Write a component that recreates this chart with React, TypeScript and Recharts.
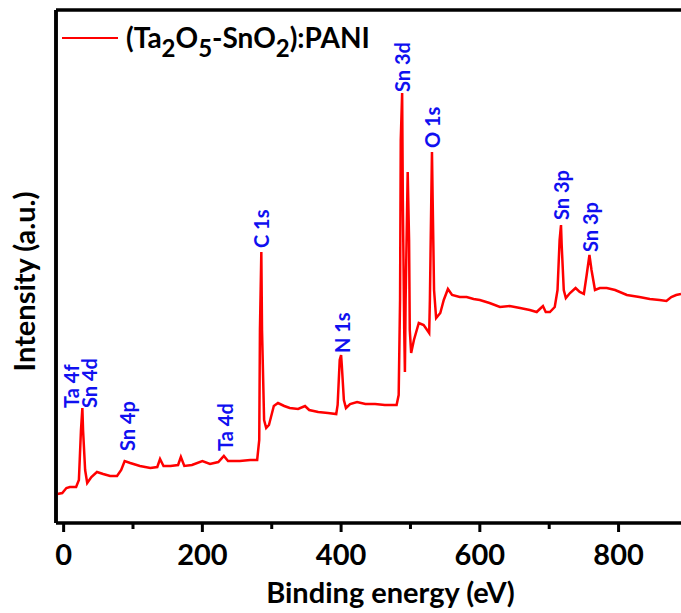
import React from "react";
import {
  LineChart,
  Line,
  XAxis,
  YAxis,
  ReferenceDot,
  ReferenceLine,
  Legend,
} from "recharts";

// XPS survey spectrum, binding energy (eV) vs intensity (a.u.)
const energy = [
  -9, -2, 4, 9, 18, 22, 25, 27, 28, 31, 34, 40, 48, 57, 67, 77, 83, 88, 96, 110,
  125, 135, 139, 144, 154, 165, 169, 174, 185, 200, 211, 223, 231, 237, 254, 269,
  279, 282, 283, 285, 286, 289, 292, 296, 303, 309, 318, 326, 338, 348, 354, 367,
  381, 393, 395, 398, 400, 401, 404, 407, 413, 423, 435, 449, 463, 480, 483, 485,
  486, 488, 489, 491, 492, 493, 496, 498, 499, 501, 505, 512, 519, 524, 527, 528,
  530, 531, 532, 534, 537, 543, 548, 554, 560, 571, 581, 591, 600, 614, 629, 643,
  658, 672, 682, 688, 691, 695, 701, 708, 712, 715, 717, 718, 721, 724, 730, 738,
  744, 750, 754, 758, 761, 766, 773, 783, 795, 812, 830, 845, 859, 869, 876, 883,
  890,
];
const intensity = [
  29, 30, 35, 36, 36, 43, 93, 115, 93, 53, 40, 46, 51, 49, 47, 47, 53, 62, 60, 57,
  55, 56, 64, 57, 57, 58, 66, 57, 58, 62, 59, 61, 67, 62, 62, 63,
  63, 83, 193, 271, 193, 103, 95, 98, 117, 120, 117, 115, 114, 117, 113, 111,
  110, 109, 118, 163, 168, 158, 123, 115, 119, 121, 119, 119, 118, 118, 128, 223,
  383, 430, 323, 193, 151, 223, 351, 283, 193, 170, 183, 200, 198, 193, 190, 223,
  323, 371, 323, 233, 205, 210, 223, 234, 228, 226, 226, 224, 223, 220, 216, 217,
  215, 213, 211, 215, 217, 211, 211, 216, 233, 283, 298, 278, 233, 225, 230, 235,
  231, 229, 248, 268, 253, 233, 235, 235, 233, 228, 226, 224, 223, 222, 226, 228,
  229,
];

const peakNames = ["Ta 4f", "Sn 4d", "Sn 4p", "Ta 4d", "C 1s", "N 1s", "Sn 3d", "O 1s", "Sn 3p", "Sn 3p"];
const peakEnergy = [11, 37, 92, 233, 285, 401, 488, 531, 717, 759];
const peakLabelLevel = [115, 115, 72, 72, 275, 170, 431, 375, 303, 271];

const xTicks = [0, 100, 200, 300, 400, 500, 600, 700, 800];

const X_DOMAIN: [number, number] = [-11, 890];
const Y_DOMAIN: [number, number] = [0, 513];

const data = energy.map((e, i) => ({ e, v: intensity[i] }));

const FONT = "Lato, 'Open Sans', sans-serif";

function Tick(props: any) {
  const { x, y, payload } = props;
  const major = payload.value % 200 === 0;
  return (
    <g>
      <line x1={x} x2={x} y1={y} y2={y + (major ? 9 : 6)} stroke="#000" strokeWidth={3} />
      {major && (
        <text x={x} y={y + 42} textAnchor="middle" fontFamily={FONT} fontWeight={700} fontSize={29} fill="#000">
          {payload.value}
        </text>
      )}
    </g>
  );
}

function PeakLabel(props: any) {
  const { cx, cy, name } = props;
  return (
    <text
      x={cx}
      y={cy}
      transform={`rotate(-90, ${cx}, ${cy})`}
      textAnchor="start"
      dominantBaseline="central"
      fontFamily={FONT}
      fontWeight={700}
      fontSize={20}
      fill="#1010f0"
    >
      {name}
    </text>
  );
}

const sub = { fontSize: 24, position: "relative" as const, top: 9 };

function LegendBox() {
  return (
    <div style={{ display: "flex", alignItems: "center", fontFamily: FONT, fontWeight: 700, fontSize: 28, color: "#000", lineHeight: "34px" }}>
      <span style={{ display: "inline-block", width: 56, height: 2.5, background: "#ff0000", marginRight: 8 }} />
      <span style={{ whiteSpace: "nowrap" }}>
        (Ta<span style={sub}>2</span>O<span style={sub}>5</span>-SnO<span style={sub}>2</span>):PANI
      </span>
    </div>
  );
}

export default function App() {
  return (
    <div style={{ position: "absolute", left: 0, top: 0, background: "#fff" }}>
      <LineChart width={681} height={613} data={data} margin={{ top: 10, right: 0, left: 55, bottom: 0 }}>
        <XAxis
          dataKey="e"
          type="number"
          domain={X_DOMAIN}
          allowDataOverflow
          ticks={xTicks}
          tick={<Tick />}
          tickLine={false}
          tickSize={0}
          tickMargin={0}
          height={90}
          axisLine={{ stroke: "#000", strokeWidth: 3.5 }}
          label={(p: any) => (
            <text
              x={p.viewBox.x + p.viewBox.width / 2 + 22}
              y={603}
              textAnchor="middle"
              fontFamily={FONT}
              fontWeight={700}
              fontSize={29}
              fill="#000"
            >
              Binding energy (eV)
            </text>
          )}
        />
        <YAxis
          type="number"
          domain={Y_DOMAIN}
          allowDataOverflow
          width={1}
          tick={false}
          tickLine={false}
          axisLine={{ stroke: "#000", strokeWidth: 3.5 }}
          label={(p: any) => {
            const cy = p.viewBox.y + p.viewBox.height / 2 + 15;
            return (
              <text
                x={35}
                y={cy}
                transform={`rotate(-90, 35, ${cy})`}
                textAnchor="middle"
                fontFamily={FONT}
                fontWeight={700}
                fontSize={29}
                fill="#000"
              >
                Intensity (a.u.)
              </text>
            );
          }}
        />
        <ReferenceLine y={Y_DOMAIN[1]} stroke="#000" strokeWidth={3.5} ifOverflow="visible" />
        <ReferenceLine x={X_DOMAIN[0]} stroke="#000" strokeWidth={3.5} ifOverflow="visible" />
        <Legend
          layout="horizontal"
          verticalAlign="middle"
          align="center"
          content={() => <LegendBox />}
          wrapperStyle={{ top: 20, left: 62, width: "auto" }}
        />
        <Line
          type="linear"
          dataKey="v"
          stroke="#ff0000"
          strokeWidth={2.5}
          dot={false}
          legendType="line"
          isAnimationActive={false}
        />
        {peakNames.map((n, i) => (
          <ReferenceDot
            key={i}
            x={peakEnergy[i]}
            y={peakLabelLevel[i]}
            r={0}
            ifOverflow="visible"
            shape={(p: any) => <PeakLabel {...p} name={n} />}
          />
        ))}
      </LineChart>
    </div>
  );
}
